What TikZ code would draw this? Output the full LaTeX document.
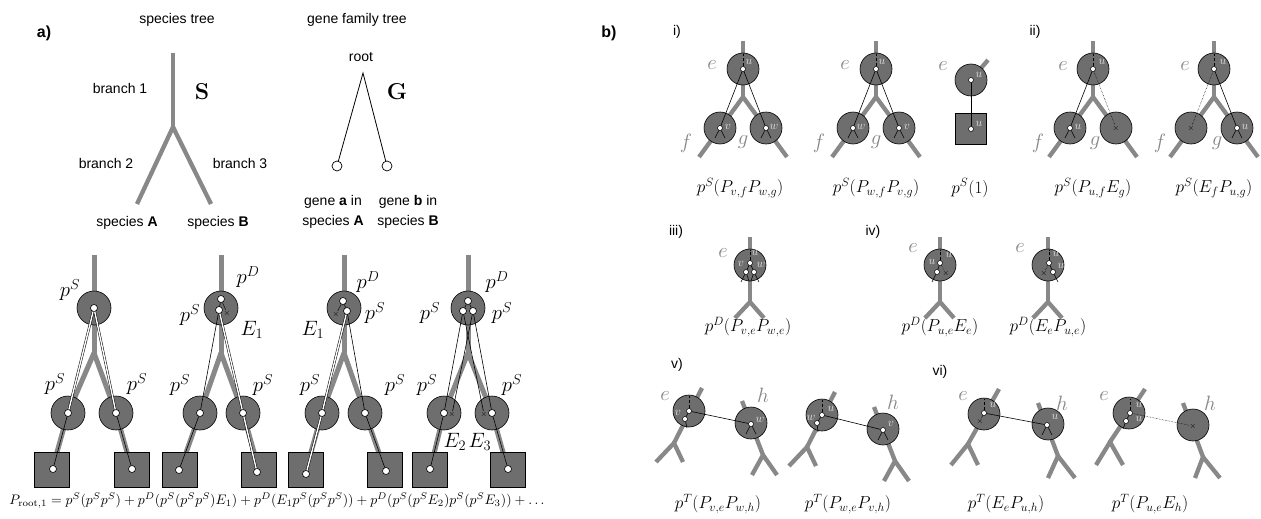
\documentclass[tikz,border=0pt]{standalone}
\usepackage{fontspec}
\usepackage{graphicx}
\newfontfamily\arial{Liberation Sans}
\definecolor{brg}{RGB}{136,136,136}
\definecolor{cg}{RGB}{110,110,110}
\definecolor{lgr}{RGB}{135,135,135}
\definecolor{wlc}{RGB}{230,230,230}
\tikzset{
 sans/.style={font=\arial\fontsize{14}{20}\selectfont, inner sep=0pt},
 lab/.style={font=\arial\bfseries\fontsize{16}{18}\selectfont, inner sep=0pt},
 abr/.style={draw=brg, line width=5pt},
 bbr/.style={draw=brg, line width=4.3pt},
 ac/.style={circle, draw=black, fill=cg, line width=0.6pt, minimum size=34pt, inner sep=0pt},
 asq/.style={rectangle, draw=black, fill=cg, line width=0.6pt, minimum size=35pt, inner sep=0pt},
 bc/.style={circle, draw=black, fill=cg, line width=0.6pt, minimum size=32pt, inner sep=0pt},
 bsq/.style={rectangle, draw=black, fill=cg, line width=0.6pt, minimum size=31pt, inner sep=0pt},
 ad/.style={circle, draw=black, fill=white, line width=0.6pt, minimum size=7pt, inner sep=0pt},
 bd/.style={circle, draw=black, fill=white, line width=0.5pt, minimum size=5pt, inner sep=0pt},
 gl/.style={draw=black, line width=0.6pt},
 agl/.style={draw=black, line width=0.5pt, double=white, double distance=1.4pt},
 dsh/.style={draw=black, line width=0.4pt, densely dashed},
 dtt/.style={draw=black, line width=0.5pt, densely dotted},
 xm/.style={inner sep=0pt, font=\fontsize{8}{8}\selectfont},
 am/.style={inner sep=0pt, font=\fontsize{20}{22}\selectfont},
 ml/.style={inner sep=0pt, font=\fontsize{17}{20}\selectfont},
 gll/.style={inner sep=0pt, text=lgr, font=\fontsize{21}{22}\selectfont},
 wl/.style={inner sep=0pt, text=wlc, font=\fontsize{11.5}{12}\selectfont},
}
\newcommand\askel[6]{%
 \draw[abr] (#2,255) -- (#2,353) coordinate (#1-j);
 \draw[abr] (#1-j) -- (#3,413) -- (#5,470);
 \draw[abr] (#1-j) -- (#4,413) -- (#6,470);
 \node[ac] (#1-c) at (#2,308) {};
 \node[ac] (#1-l) at (#3,413) {};
 \node[ac] (#1-r) at (#4,413) {};
 \node[asq] (#1-sl) at (#5,470) {};
 \node[asq] (#1-sr) at (#6,470) {};
}
\newcommand\bY[2]{%
 \draw[bbr] (#2,41) -- (#2,97) coordinate (#1-j);
 \draw[bbr] (#2-44,157) -- (#1-j) -- (#2+44,157);
 \node[bc] (#1-c) at (#2,69) {};
 \node[bc] (#1-l) at (#2-23,128) {};
 \node[bc] (#1-r) at (#2+23,128) {};
}
\newcommand\bI[2]{%
 \draw[bbr] (#2,237) -- (#2,302) coordinate (#1-j);
 \draw[bbr] (#2-15,318) -- (#1-j) -- (#2+14,318);
 \node[bc] (#1-c) at (#2,265) {};
}
\newcommand\bL[6]{%
 \draw[bbr] #2 -- #4 coordinate (#1-j);
 \draw[bbr] #5 -- (#1-j) -- #6;
 \node[bc] (#1) at #3 {};
}
\begin{document}
\begin{tikzpicture}[x=1pt,y=-1pt]
\useasboundingbox[fill=white] (0,0) rectangle (1261,519);
% ================= panel a, top =================
\node[lab] (la) at (44,33) {a)};
\node[sans] (tst) at (177,20) {species tree};
\node[sans] (tgt) at (357,20) {gene family tree};
\draw[abr, line width=4.3pt] (173,53) -- (173,127) coordinate (sj);
\draw[abr, line width=4.3pt] (137,204) -- (sj) -- (211,204);
\node[sans] (b1) at (120,88) {branch 1};
\node[sans] (b2) at (106,163) {branch 2};
\node[sans] (b3) at (240,163) {branch 3};
\node[inner sep=0pt, font=\fontsize{23}{24}\selectfont] (Slab) at (202,92) {\textbf{S}};
\node[inner sep=0pt, font=\fontsize{23}{24}\selectfont] (Glab) at (397,92) {\textbf{G}};
\node[sans] (spA) at (127,223) {species \textbf{A}};
\node[sans] (spB) at (218,223) {species \textbf{B}};
\node[sans] (rootl) at (361,57) {root};
\coordinate (groot) at (363,73);
\node[circle, draw=black, fill=white, line width=0.7pt, minimum size=10pt, inner sep=0pt] (ga) at (337,166) {};
\node[circle, draw=black, fill=white, line width=0.7pt, minimum size=10pt, inner sep=0pt] (gb) at (387,166) {};
\draw[line width=0.8pt] (ga) -- (groot) -- (gb);
\node[sans, align=center] (gal) at (333,212) {gene \textbf{a} in\\species \textbf{A}};
\node[sans, align=center] (gbl) at (408,212) {gene \textbf{b} in\\species \textbf{B}};
% ================= panel a, bottom =================
\askel{A}{94}{68}{116}{52}{132}
\askel{B}{221}{200}{243}{180}{259}
\askel{C}{344}{322}{365}{306}{385}
\askel{D}{468}{444}{492}{430}{508}
% tree A
\node[ad] (A-d) at (94,308) {};
\node[ad] (A-ld) at (68,413) {};
\node[ad] (A-rd) at (116,413) {};
\node[ad] (A-sld) at (53,469) {};
\node[ad] (A-srd) at (132,469) {};
\draw[agl] (A-d) -- (A-ld);
\draw[agl] (A-d) -- (A-rd);
\draw[gl] (A-ld) -- (A-sld);
\draw[gl] (A-rd) -- (A-srd);
\node[am] at (70,290) {$p^S$};
\node[am] at (55,384) {$p^S$};
\node[am] at (137,384) {$p^S$};
% tree B
\node[ad] (B-d1) at (221,299) {};
\node[ad] (B-d2) at (219,310) {};
\node[xm] (B-x) at (227,313) {$\times$};
\node[ad] (B-ld) at (200,413) {};
\node[ad] (B-rd) at (243,413) {};
\node[ad] (B-sld) at (179,470) {};
\node[ad] (B-srd) at (257,472) {};
\draw[gl] (B-d1) -- (B-d2);
\draw[gl, line width=0.4pt] (B-d1) -- (B-x);
\draw[gl] (B-d2) -- (B-ld);
\draw[agl] (B-d2) -- (B-rd);
\draw[gl] (B-ld) -- (B-sld);
\draw[agl] (B-rd) -- (B-srd);
\node[am] at (248,277) {$p^D$};
\node[am] at (190,315) {$p^S$};
\node[am] at (252,330) {$E_1$};
\node[am] at (180,385) {$p^S$};
\node[am] at (263,385) {$p^S$};
% tree C
\node[ad] (C-d1) at (343,301) {};
\node[ad] (C-d2) at (347,311) {};
\node[xm] (C-x) at (336,314) {$\times$};
\node[ad] (C-ld) at (322,413) {};
\node[ad] (C-rd) at (365,413) {};
\node[ad] (C-sld) at (306,474) {};
\node[ad] (C-srd) at (386,471) {};
\draw[gl] (C-d1) -- (C-d2);
\draw[gl, line width=0.4pt] (C-d1) -- (C-x);
\draw[agl] (C-d2) -- (C-ld);
\draw[gl] (C-d2) -- (C-rd);
\draw[agl] (C-ld) -- (C-sld);
\draw[gl] (C-rd) -- (C-srd);
\node[am] at (368,282) {$p^D$};
\node[am] at (375,313) {$p^S$};
\node[am] at (313,330) {$E_1$};
\node[am] at (310,385) {$p^S$};
\node[am] at (395,385) {$p^S$};
% tree D
\node[ad] (D-d1) at (468,301) {};
\node[ad] (D-d2) at (463,311) {};
\node[ad] (D-d3) at (473,311) {};
\node[ad] (D-ld) at (444,413) {};
\node[xm] (D-lx) at (452,414) {$\times$};
\node[xm] (D-rx) at (484,414) {$\times$};
\node[ad] (D-rd) at (492,413) {};
\node[ad] (D-sld) at (430,469) {};
\node[ad] (D-srd) at (508,469) {};
\draw[gl] (D-d1) -- (D-d2);
\draw[gl] (D-d1) -- (D-d3);
\draw[gl] (D-d2) -- (D-ld);
\draw[gl] (D-d2) -- (D-rx);
\draw[gl] (D-d3) -- (D-lx);
\draw[gl] (D-d3) -- (D-rd);
\draw[gl] (D-ld) -- (D-sld);
\draw[gl] (D-rd) -- (D-srd);
\node[am] at (497,282) {$p^D$};
\node[am] at (430,313) {$p^S$};
\node[am] at (502,313) {$p^S$};
\node[am] at (427,385) {$p^S$};
\node[am] at (512,385) {$p^S$};
\node[am] at (455,442) {$E_2$};
\node[am] at (480,442) {$E_3$};
\node[inner sep=0pt] (eq) at (277,501) {\resizebox{535pt}{!}{$P_{\mathrm{root},1} = p^S(p^Sp^S) + p^D(p^S(p^Sp^S)E_1) + p^D(E_1p^S(p^Sp^S)) + p^D(p^S(p^SE_2)p^S(p^SE_3)) + \ldots$}};
% ================= panel b =================
\node[lab] (lb) at (609,33) {b)};
\node[sans] at (677,32) {i)};
\node[sans] at (1035,32) {ii)};
\node[sans] at (676,232) {iii)};
\node[sans] at (873,232) {iv)};
\node[sans] at (677,365) {v)};
\node[sans] at (940,372) {vi)};
% i-1
\bY{P}{743}
\node[bd] (P-d) at (743,69) {};
\node[bd] (P-ld) at (720,128) {};
\node[bd] (P-rd) at (766,128) {};
\draw[dsh] (P-d) -- (743,54);
\draw[gl] (P-d) -- (P-ld);
\draw[gl] (P-d) -- (P-rd);
\draw[gl] (P-ld) -- ++(-5,10); \draw[gl] (P-ld) -- ++(5,10);
\draw[gl] (P-rd) -- ++(-5,10); \draw[gl] (P-rd) -- ++(5,10);
\node[wl] at (749,62) {$u$};
\node[wl] at (728,127) {$v$};
\node[wl] at (774,127) {$w$};
\node[gll] at (712,65) {$e$};
\node[gll] at (686,143) {$f$};
\node[gll] at (743,142) {$g$};
\node[ml] at (740,188) {$p^S(P_{v,f}P_{w,g})$};
% i-2
\bY{Q}{876}
\node[bd] (Q-d) at (876,69) {};
\node[bd] (Q-ld) at (853,128) {};
\node[bd] (Q-rd) at (899,128) {};
\draw[dsh] (Q-d) -- (876,54);
\draw[gl] (Q-d) -- (Q-ld);
\draw[gl] (Q-d) -- (Q-rd);
\draw[gl] (Q-ld) -- ++(-5,10); \draw[gl] (Q-ld) -- ++(5,10);
\draw[gl] (Q-rd) -- ++(-5,10); \draw[gl] (Q-rd) -- ++(5,10);
\node[wl] at (882,62) {$u$};
\node[wl] at (861,127) {$w$};
\node[wl] at (907,127) {$v$};
\node[gll] at (845,65) {$e$};
\node[gll] at (819,143) {$f$};
\node[gll] at (876,142) {$g$};
\node[ml] at (876,188) {$p^S(P_{w,f}P_{v,g})$};
% i-3
\draw[bbr] (988,60) -- (971,80);
\node[bc] (R-c) at (971,80) {};
\node[bsq] (R-s) at (971,129) {};
\node[bd] (R-d1) at (971,80) {};
\node[bd] (R-d2) at (971,129) {};
\draw[gl, line width=1pt] (R-d1) -- (R-d2);
\node[wl] at (979,75) {$u$};
\node[wl] at (979,124) {$u$};
\node[gll] at (943,66) {$e$};
\node[ml] at (970,188) {$p^S(1)$};
% ii-1
\bY{T}{1093}
\node[bd] (T-d) at (1093,69) {};
\node[bd] (T-ld) at (1070,128) {};
\node[xm] (T-x) at (1116,128) {$\times$};
\draw[dsh] (T-d) -- (1093,54);
\draw[gl] (T-d) -- (T-ld);
\draw[dtt] (T-d) -- (T-x);
\draw[gl] (T-ld) -- ++(-5,10); \draw[gl] (T-ld) -- ++(5,10);
\node[wl] at (1102,62) {$u$};
\node[wl] at (1078,127) {$u$};
\node[gll] at (1063,66) {$e$};
\node[gll] at (1038,143) {$f$};
\node[gll] at (1095,143) {$g$};
\node[ml] at (1093,188) {$p^S(P_{u,f}E_g)$};
% ii-2
\bY{U}{1214}
\node[bd] (U-d) at (1214,69) {};
\node[xm] (U-x) at (1191,128) {$\times$};
\node[bd] (U-rd) at (1237,128) {};
\draw[dsh] (U-d) -- (1214,54);
\draw[dtt] (U-d) -- (U-x);
\draw[gl] (U-d) -- (U-rd);
\draw[gl] (U-rd) -- ++(-5,10); \draw[gl] (U-rd) -- ++(5,10);
\node[wl] at (1223,62) {$u$};
\node[wl] at (1245,127) {$u$};
\node[gll] at (1185,66) {$e$};
\node[gll] at (1160,143) {$f$};
\node[gll] at (1217,143) {$g$};
\node[ml] at (1214,188) {$p^S(E_fP_{u,g})$};
% iii
\bI{V}{750}
\node[bd] (V-d1) at (750,263) {};
\node[bd] (V-d2) at (746,272) {};
\node[bd] (V-d3) at (754,272) {};
\draw[dsh] (V-d1) -- (750,250);
\draw[gl] (V-d1) -- (V-d2);
\draw[gl] (V-d1) -- (V-d3);
\draw[gl] (V-d2) -- ++(-5,10); \draw[gl] (V-d2) -- ++(3,9);
\draw[gl] (V-d3) -- ++(-3,9); \draw[gl] (V-d3) -- ++(5,10);
\node[wl] at (755,253) {$u$};
\node[wl] at (741,264) {$v$};
\node[wl] at (761,265) {$w$};
\node[gll] at (723,253) {$e$};
\node[ml] at (748,327) {$p^D(P_{v,e}P_{w,e})$};
% iv-1
\bI{W}{940}
\node[bd] (W-d1) at (940,263) {};
\node[bd] (W-d2) at (937,272) {};
\node[xm] (W-x) at (946,273) {$\times$};
\draw[dsh] (W-d1) -- (940,250);
\draw[gl] (W-d1) -- (W-d2);
\draw[dtt] (W-d1) -- (W-x);
\draw[gl] (W-d2) -- ++(-5,10);
\node[wl] at (932,262) {$u$};
\node[wl] at (949,255) {$u$};
\node[gll] at (913,248) {$e$};
\node[ml] at (940,327) {$p^D(P_{u,e}E_e)$};
% iv-2
\bI{X}{1048}
\node[bd] (X-d1) at (1049,263) {};
\node[bd] (X-d2) at (1053,272) {};
\node[xm] (X-x) at (1044,273) {$\times$};
\draw[dsh] (X-d1) -- (1049,250);
\draw[gl] (X-d1) -- (X-d2);
\draw[dtt] (X-d1) -- (X-x);
\draw[gl] (X-d2) -- ++(5,10);
\node[wl] at (1056,254) {$u$};
\node[wl] at (1061,266) {$u$};
\node[gll] at (1020,248) {$e$};
\node[ml] at (1048,327) {$p^D(E_eP_{u,e})$};
% v-1
\bL{v1L}{(702,388)}{(689,411)}{(674,443)}{(656,462)}{(683,462)}
\bL{v1R}{(742,401)}{(751,423)}{(763,455)}{(752,475)}{(777,475)}
\node[bd] (v1d1) at (689,411) {};
\node[bd] (v1d2) at (685,419) {};
\node[bd] (v1rd) at (751,424) {};
\draw[dsh] (v1d1) -- (689,396);
\draw[gl] (v1d1) -- (v1d2);
\draw[gl] (v1d2) -- ++(2,9);
\draw[gl] (v1d1) -- (v1rd);
\draw[gl] (v1rd) -- ++(-5,10); \draw[gl] (v1rd) -- ++(5,10);
\node[wl] at (678,413) {$v$};
\node[wl] at (760,420) {$w$};
\node[gll] at (665,396) {$e$};
\node[gll] at (763,395) {$h$};
\node[ml] at (718,504) {$p^T(P_{v,e}P_{w,h})$};
% v-2
\bL{v2L}{(835,392)}{(822,415)}{(807,447)}{(789,466)}{(816,466)}
\bL{v2R}{(874,407)}{(883,429)}{(895,461)}{(884,481)}{(909,481)}
\node[bd] (v2d1) at (822,415) {};
\node[bd] (v2d2) at (817,423) {};
\node[bd] (v2rd) at (883,430) {};
\draw[dsh] (v2d1) -- (822,400);
\draw[gl] (v2d1) -- (v2d2);
\draw[gl] (v2d2) -- ++(1,9);
\draw[gl] (v2d1) -- (v2rd);
\draw[gl] (v2rd) -- ++(-5,10); \draw[gl] (v2rd) -- ++(5,10);
\node[wl] at (831,409) {$u$};
\node[wl] at (811,418) {$w$};
\node[wl] at (891,424) {$v$};
\node[gll] at (893,402) {$h$};
\node[ml] at (848,504) {$p^T(P_{w,e}P_{v,h})$};
% vi-1
\bL{w1L}{(999,389)}{(984,414)}{(968,444)}{(951,465)}{(978,465)}
\bL{w1R}{(1038,403)}{(1048,424)}{(1058,456)}{(1048,478)}{(1075,478)}
\node[bd] (w1d) at (984,413) {};
\node[xm] (w1x) at (980,421) {$\times$};
\node[bd] (w1rd) at (1047,425) {};
\draw[dsh] (w1d) -- (984,399);
\draw[gl, line width=0.4pt] (w1d) -- (w1x);
\draw[gl] (w1d) -- (w1rd);
\draw[gl] (w1rd) -- ++(-5,10); \draw[gl] (w1rd) -- ++(5,10);
\node[wl] at (993,405) {$u$};
\node[wl] at (1055,417) {$u$};
\node[gll] at (963,396) {$e$};
\node[gll] at (1062,403) {$h$};
\node[ml] at (1006,504) {$p^T(E_eP_{u,h})$};
% vi-2
\bL{w2L}{(1145,389)}{(1129,413)}{(1110,442)}{(1096,465)}{(1123,465)}
\bL{w2R}{(1183,403)}{(1193,425)}{(1203,457)}{(1195,478)}{(1220,478)}
\node[bd] (w2d1) at (1130,413) {};
\node[bd] (w2d2) at (1126,421) {};
\node[xm] (w2x) at (1193,426) {$\times$};
\draw[dsh] (w2d1) -- (1130,399);
\draw[gl] (w2d1) -- (w2d2);
\draw[gl] (w2d2) -- ++(-3,8);
\draw[dtt] (w2d1) -- (w2x);
\node[wl] at (1139,405) {$u$};
\node[wl] at (1139,419) {$u$};
\node[gll] at (1104,396) {$e$};
\node[gll] at (1210,403) {$h$};
\node[ml] at (1150,504) {$p^T(P_{u,e}E_h)$};
\end{tikzpicture}
\end{document}
